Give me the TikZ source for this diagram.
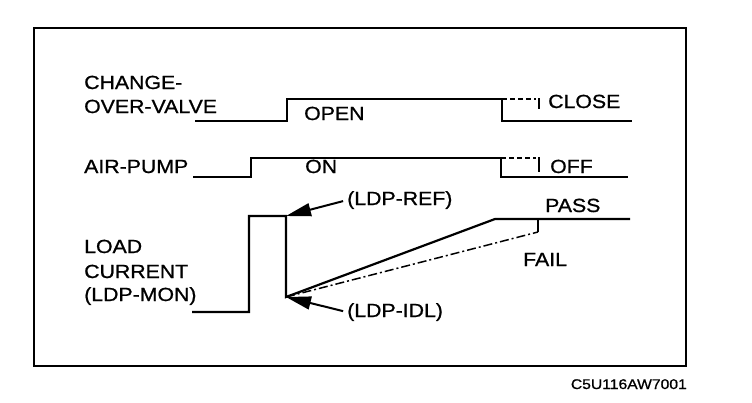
\documentclass[tikz,border=0pt]{standalone}
\usepackage{fontspec}
\setmainfont{Liberation Sans}[FakeStretch=1.12,FakeBold=0.9]
\usetikzlibrary{arrows.meta}
\begin{document}
\begin{tikzpicture}[x=1pt,y=-1pt,
  sig/.style={line width=2.2pt, line join=miter},
  bar/.style={line width=2.6pt},
  lab/.style={anchor=base west, inner sep=0pt, font=\fontsize{19}{21}\selectfont},
  ptr/.style={line width=2pt, -{Triangle[length=25pt,width=13pt]}, shorten <=4pt}]
\useasboundingbox (0,0) rectangle (752,402);
\draw[line width=1.6pt] (34,28) rectangle (686,366);
% labels
\node[lab] (cov1) at (84,89) {CHANGE-};
\node[lab] (cov2) at (84,113) {OVER-VALVE};
\node[lab] (ap) at (84,173) {AIR-PUMP};
\node[lab] (lc1) at (84,253) {LOAD};
\node[lab] (lc2) at (84,278) {CURRENT};
\node[lab] (lc3) at (84,301) {(LDP-MON)};
\node[lab] (open) at (304,120) {OPEN};
\node[lab] (close) at (548,108) {CLOSE};
\node[lab] (on) at (305,173) {ON};
\node[lab] (off) at (550,173) {OFF};
\node[lab] (pass) at (545,212) {PASS};
\node[lab] (fail) at (523,266) {FAIL};
\node[lab] (ref) at (347,205) {(LDP-REF)};
\node[lab] (idl) at (347,317) {(LDP-IDL)};
\node[anchor=base east, inner sep=0pt, font=\fontsize{14}{16}\selectfont] (code) at (687,389) {C5U116AW7001};
% change-over valve
\draw[sig] (195,121) -- (287,121) -- (287,99) -- (502,99) -- (502,121) -- (632,121);
\draw[line width=1.4pt, dash pattern=on 5pt off 3pt] (502,99) -- (536,99);
\draw[bar] (539,98) -- (539,109);
% air pump
\draw[sig] (193,177) -- (251,177) -- (251,158) -- (501,158) -- (501,177) -- (628,177);
\draw[line width=1.4pt, dash pattern=on 5pt off 3pt] (501,158) -- (536,158);
\draw[bar] (539,157) -- (539,172);
% load current
\coordinate (top) at (286,216);
\coordinate (idlp) at (286,297);
\coordinate (pk) at (495,219);
\coordinate (fl) at (538,232);
\coordinate (flt) at (538,219);
\draw[sig] (192,312) -- (249,312) -- (249,216) -- (top) -- (idlp) -- (pk) -- (630,219);
\draw[line width=1.5pt, dash pattern=on 9pt off 3pt on 2pt off 3pt] (idlp) -- (fl);
\draw[line width=1.5pt] (fl) -- (flt);
% pointers
\draw[ptr] (ref.west) -- (top);
\draw[ptr] (idl.west) -- (idlp);
\end{tikzpicture}
\end{document}
